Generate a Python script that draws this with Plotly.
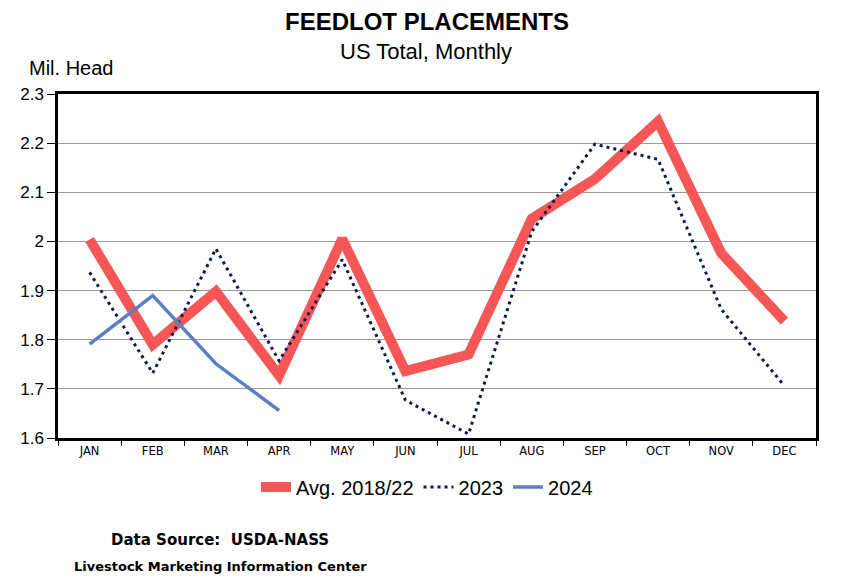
import plotly.graph_objects as go

months = ["JAN", "FEB", "MAR", "APR", "MAY", "JUN", "JUL", "AUG", "SEP", "OCT", "NOV", "DEC"]
avg_2018_22 = [2.004, 1.79, 1.898, 1.727, 2.005, 1.736, 1.77, 2.046, 2.127, 2.244, 1.976, 1.838]
y2023 = [1.937, 1.732, 1.985, 1.757, 1.963, 1.677, 1.608, 2.02, 2.198, 2.167, 1.862, 1.706]
y2024 = [1.791, 1.89, 1.751, 1.656]
y_ticks = [1.6, 1.7, 1.8, 1.9, 2.0, 2.1, 2.2, 2.3]
y_tick_labels = ["1.6", "1.7", "1.8", "1.9", "2", "2.1", "2.2", "2.3"]

fig = go.Figure()
fig.add_trace(go.Scatter(x=months, y=avg_2018_22, mode="lines", name="Avg. 2018/22",
                         line=dict(color="#F65656", width=10)))
fig.add_trace(go.Scatter(x=months, y=y2023, mode="lines", name="2023",
                         line=dict(color="#0F1A4D", width=3, dash="3px,4px")))
fig.add_trace(go.Scatter(x=months[:len(y2024)], y=y2024, mode="lines", name="2024",
                         line=dict(color="#5B80C2", width=3.5)))

OFF = 8  # page body margin
L, R, T, B = 58 - OFF, 816 - OFF, 94 - OFF, 438 - OFF
W, H = 854, 585
def px(x):
    return (x - OFF - L) / (R - L)
def py(y):
    return (B - (y - OFF)) / (B - T)

fig.update_layout(
    width=W, height=H,
    margin=dict(l=L, r=W - R, t=T, b=H - B, autoexpand=False),
    paper_bgcolor="white", plot_bgcolor="white",
    showlegend=True,
    legend=dict(orientation="h", x=px(427), xanchor="center", y=py(487), yanchor="middle",
                font=dict(family="Liberation Sans", size=20, color="black"),
                tracegroupgap=0),
    xaxis=dict(type="category", range=[-0.5, 11.5], showgrid=False,
               tickson="boundaries", ticks="outside", ticklen=5, tickcolor="black",
               tickfont=dict(family="DejaVu Sans", size=11.5, color="black"),
               showline=True, linecolor="black", linewidth=2.5, mirror=True),
    yaxis=dict(range=[1.6, 2.3], tickvals=y_ticks, ticktext=y_tick_labels,
               showgrid=True, gridcolor="#9A9A9A", gridwidth=1,
               ticks="outside", ticklen=8, tickcolor="black",
               tickfont=dict(family="Liberation Sans", size=17, color="black"),
               showline=True, linecolor="black", linewidth=2.5, mirror=True, zeroline=False),
    annotations=[
        dict(text="<b>FEEDLOT PLACEMENTS</b>", x=px(427), y=py(21), xref="paper", yref="paper",
             showarrow=False, xanchor="center", yanchor="middle",
             font=dict(family="Liberation Sans", size=24, color="black")),
        dict(text="US Total, Monthly", x=px(426), y=py(51), xref="paper", yref="paper",
             showarrow=False, xanchor="center", yanchor="middle",
             font=dict(family="Liberation Sans", size=22, color="black")),
        dict(text="Mil. Head", x=px(27), y=py(68), xref="paper", yref="paper",
             showarrow=False, xanchor="left", yanchor="middle",
             font=dict(family="Liberation Sans", size=20, color="black")),
        dict(text="<b>Data Source:  USDA-NASS</b>", x=px(109), y=py(540), xref="paper", yref="paper",
             showarrow=False, xanchor="left", yanchor="middle",
             font=dict(family="DejaVu Sans", size=15, color="black")),
        dict(text="<b>Livestock Marketing Information Center</b>", x=px(72), y=py(566), xref="paper", yref="paper",
             showarrow=False, xanchor="left", yanchor="middle",
             font=dict(family="DejaVu Sans", size=13, color="black")),
    ],
)

fig.write_html("out.html")
